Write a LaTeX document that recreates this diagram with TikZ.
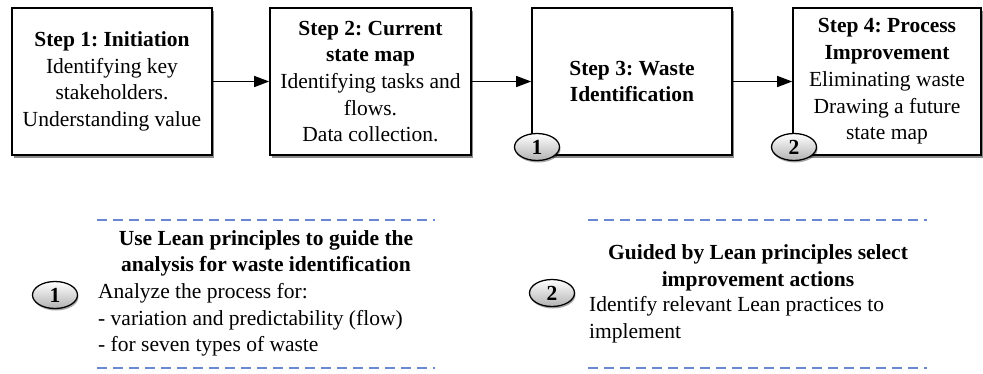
\documentclass[tikz,border=0pt]{standalone}
\usepackage{fontspec}
\setmainfont{Liberation Serif}
\usetikzlibrary{arrows.meta,shadows,shapes.geometric,positioning}
\frenchspacing

\definecolor{dashblue}{RGB}{105,135,210}

\begin{document}
\begin{tikzpicture}[x=1pt,y=-1pt,
    every node/.style={font=\fontsize{21.5}{26.7}\selectfont},
    stepbox/.style={draw,line width=1.6pt,fill=white,minimum height=147pt,
      inner sep=0pt,align=center,
      drop shadow={shadow xshift=1.5pt,shadow yshift=-3pt,fill=black,opacity=.45}},
    badge/.style={ellipse,draw,line width=1.3pt,minimum width=45pt,minimum height=27pt,
      inner sep=0pt,top color=white,bottom color=gray!60,font=\fontsize{21.5}{26.7}\selectfont\bfseries,
      drop shadow={shadow xshift=1pt,shadow yshift=-2pt,fill=black,opacity=.35}},
    flow/.style={line width=1.3pt,-{Triangle[length=15pt,width=11pt]}},
    sep/.style={dashblue,line width=1.2pt,dash pattern=on 10pt off 6pt}
  ]
  \useasboundingbox (0,0) rectangle (983,373);
  % steps
  \node[stepbox,minimum width=200pt] (init) at (112,81.5)
    {\textbf{Step 1: Initiation}\\Identifying key\\stakeholders.\\Understanding value};
  \node[stepbox,minimum width=201pt] (current) at (370.5,81.5)
    {\textbf{Step 2: Current}\\\textbf{state map}\\Identifying tasks and\\flows.\\Data collection.};
  \node[stepbox,minimum width=200pt] (waste) at (632,81.5)
    {\textbf{Step 3: Waste}\\\textbf{Identification}};
  \node[stepbox,minimum width=188pt] (improve) at (887,81.5)
    {\textbf{Step 4: Process}\\\textbf{Improvement}\\Eliminating waste\\Drawing a future\\state map};
  \draw[flow] (init) -- (current);
  \draw[flow] (current) -- (waste);
  \draw[flow] (waste) -- (improve);
  \node[badge] (markA) at (537,147) {1};
  \node[badge] (markB) at (794,147) {2};
  % notes
  \draw[sep] (97,220) -- (435,220);
  \draw[sep] (97,368) -- (435,368);
  \draw[sep] (588,220) -- (927,220);
  \draw[sep] (588,368) -- (927,368);
  \node[badge] (noteA) at (55,295) {1};
  \node[align=center,inner sep=0pt] (noteAtitle) at (266,253.5)
    {\textbf{Use Lean principles to guide the}\\\textbf{analysis for waste identification}};
  \node[align=left,anchor=west,inner sep=0pt] (noteAbody) at (98,320)
    {Analyze the process for:\\- variation and predictability (flow)\\- for seven types of waste};
  \node[badge] (noteB) at (552,293) {2};
  \node[align=center,inner sep=0pt] (noteBtitle) at (758,267.5)
    {\textbf{Guided by Lean principles select}\\\textbf{improvement actions}};
  \node[align=left,anchor=west,inner sep=0pt] (noteBbody) at (589,320)
    {Identify relevant Lean practices to\\implement};
\end{tikzpicture}
\end{document}
